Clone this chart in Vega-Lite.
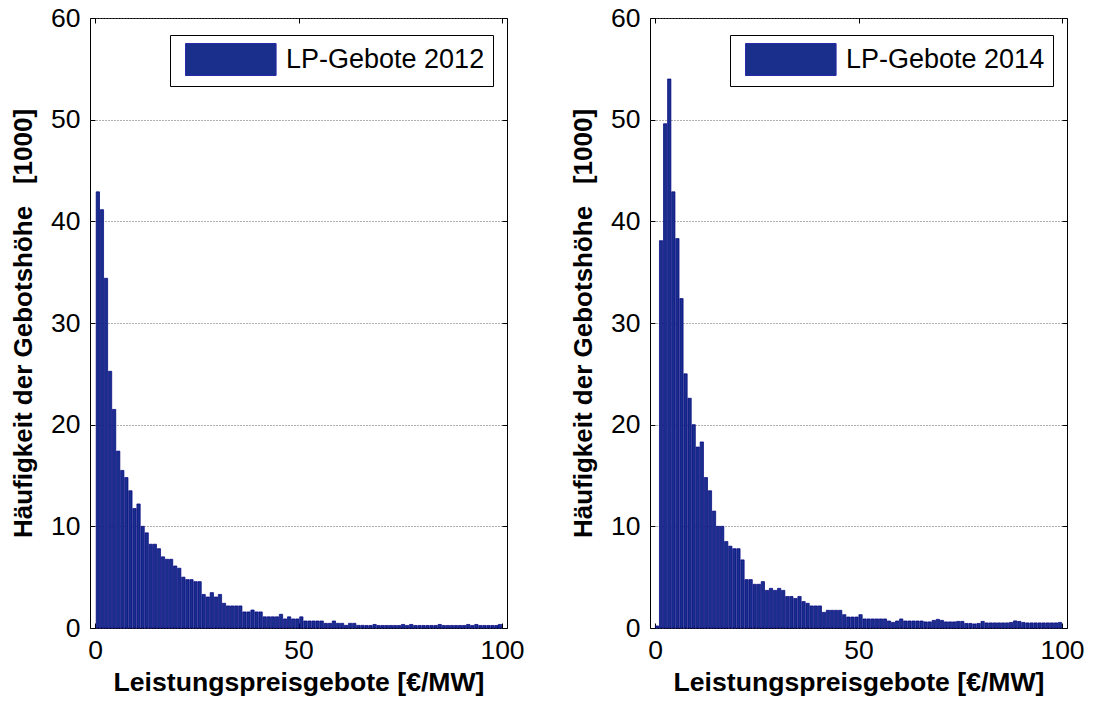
{
  "$schema": "https://vega.github.io/schema/vega-lite/v6.json",
  "background": "white",
  "padding": {"left": 10, "top": 4, "right": 0, "bottom": 0},
  "config": {
    "font": "Liberation Sans",
    "view": {"stroke": "black", "strokeWidth": 1},
    "axis": {
      "labelFont": "Liberation Sans", "labelFontSize": 26.5, "labelColor": "black",
      "titleFont": "Liberation Sans", "titleFontSize": 26.6, "titleFontWeight": "bold", "titleColor": "black",
      "tickColor": "black", "tickSize": -5, "tickWidth": 1,
      "domainColor": "black", "gridColor": "#606060", "gridDash": [1, 2], "gridWidth": 1
    }
  },
  "datasets": {
    "d2012": [
      {"preis": 0.7, "anzahl": 42.9}, {"preis": 1.7, "anzahl": 41.15}, {"preis": 2.7, "anzahl": 34.4}, {"preis": 3.7, "anzahl": 25.25}, {"preis": 4.7, "anzahl": 21.5},
      {"preis": 5.7, "anzahl": 17.4}, {"preis": 6.7, "anzahl": 15.5}, {"preis": 7.7, "anzahl": 14.8}, {"preis": 8.7, "anzahl": 13.5}, {"preis": 9.7, "anzahl": 11.75},
      {"preis": 10.7, "anzahl": 12.2}, {"preis": 11.7, "anzahl": 10.0}, {"preis": 12.7, "anzahl": 9.36}, {"preis": 13.7, "anzahl": 8.24}, {"preis": 14.7, "anzahl": 8.24},
      {"preis": 15.7, "anzahl": 7.8}, {"preis": 16.7, "anzahl": 7.0}, {"preis": 17.7, "anzahl": 6.76}, {"preis": 18.7, "anzahl": 6.76}, {"preis": 19.7, "anzahl": 6.1},
      {"preis": 20.7, "anzahl": 5.88}, {"preis": 21.7, "anzahl": 5.0}, {"preis": 22.7, "anzahl": 4.76}, {"preis": 23.7, "anzahl": 4.76}, {"preis": 24.7, "anzahl": 4.56},
      {"preis": 25.7, "anzahl": 4.56}, {"preis": 26.7, "anzahl": 3.3}, {"preis": 27.7, "anzahl": 3.05}, {"preis": 28.7, "anzahl": 3.48}, {"preis": 29.7, "anzahl": 3.05},
      {"preis": 30.7, "anzahl": 3.3}, {"preis": 31.7, "anzahl": 2.43}, {"preis": 32.7, "anzahl": 2.17}, {"preis": 33.7, "anzahl": 2.17}, {"preis": 34.7, "anzahl": 2.17},
      {"preis": 35.7, "anzahl": 2.17}, {"preis": 36.7, "anzahl": 1.58}, {"preis": 37.7, "anzahl": 1.58}, {"preis": 38.7, "anzahl": 1.77}, {"preis": 39.7, "anzahl": 1.58},
      {"preis": 40.7, "anzahl": 1.58}, {"preis": 41.7, "anzahl": 1.1}, {"preis": 42.7, "anzahl": 1.1}, {"preis": 43.7, "anzahl": 1.1}, {"preis": 44.7, "anzahl": 1.1},
      {"preis": 45.7, "anzahl": 1.35}, {"preis": 46.7, "anzahl": 0.89}, {"preis": 47.7, "anzahl": 1.1}, {"preis": 48.7, "anzahl": 0.89}, {"preis": 49.7, "anzahl": 0.89},
      {"preis": 50.7, "anzahl": 1.1}, {"preis": 51.7, "anzahl": 0.69}, {"preis": 52.7, "anzahl": 0.69}, {"preis": 53.7, "anzahl": 0.69}, {"preis": 54.7, "anzahl": 0.69},
      {"preis": 55.7, "anzahl": 0.69}, {"preis": 56.7, "anzahl": 0.46}, {"preis": 57.7, "anzahl": 0.46}, {"preis": 58.7, "anzahl": 0.69}, {"preis": 59.7, "anzahl": 0.46},
      {"preis": 60.7, "anzahl": 0.46}, {"preis": 61.7, "anzahl": 0.26}, {"preis": 62.7, "anzahl": 0.46}, {"preis": 63.7, "anzahl": 0.46}, {"preis": 64.7, "anzahl": 0.26},
      {"preis": 65.7, "anzahl": 0.26}, {"preis": 66.7, "anzahl": 0.25}, {"preis": 67.7, "anzahl": 0.25}, {"preis": 68.7, "anzahl": 0.35}, {"preis": 69.7, "anzahl": 0.25},
      {"preis": 70.7, "anzahl": 0.25}, {"preis": 71.7, "anzahl": 0.25}, {"preis": 72.7, "anzahl": 0.25}, {"preis": 73.7, "anzahl": 0.25}, {"preis": 74.7, "anzahl": 0.25},
      {"preis": 75.7, "anzahl": 0.35}, {"preis": 76.7, "anzahl": 0.25}, {"preis": 77.7, "anzahl": 0.35}, {"preis": 78.7, "anzahl": 0.25}, {"preis": 79.7, "anzahl": 0.25},
      {"preis": 80.7, "anzahl": 0.25}, {"preis": 81.7, "anzahl": 0.25}, {"preis": 82.7, "anzahl": 0.25}, {"preis": 83.7, "anzahl": 0.25}, {"preis": 84.7, "anzahl": 0.35},
      {"preis": 85.7, "anzahl": 0.25}, {"preis": 86.7, "anzahl": 0.25}, {"preis": 87.7, "anzahl": 0.25}, {"preis": 88.7, "anzahl": 0.25}, {"preis": 89.7, "anzahl": 0.25},
      {"preis": 90.7, "anzahl": 0.25}, {"preis": 91.7, "anzahl": 0.35}, {"preis": 92.7, "anzahl": 0.25}, {"preis": 93.7, "anzahl": 0.35}, {"preis": 94.7, "anzahl": 0.25},
      {"preis": 95.7, "anzahl": 0.25}, {"preis": 96.7, "anzahl": 0.25}, {"preis": 97.7, "anzahl": 0.25}, {"preis": 98.7, "anzahl": 0.25}, {"preis": 99.5, "anzahl": 0.35}
    ],
    "d2014": [
      {"preis": 0.5, "anzahl": 0.2}, {"preis": 1.5, "anzahl": 38.1}, {"preis": 2.5, "anzahl": 49.6}, {"preis": 3.5, "anzahl": 54.0}, {"preis": 4.5, "anzahl": 42.9},
      {"preis": 5.5, "anzahl": 38.3}, {"preis": 6.5, "anzahl": 32.4}, {"preis": 7.5, "anzahl": 25.0}, {"preis": 8.5, "anzahl": 22.6}, {"preis": 9.5, "anzahl": 20.0},
      {"preis": 10.5, "anzahl": 17.8}, {"preis": 11.5, "anzahl": 18.3}, {"preis": 12.5, "anzahl": 14.8}, {"preis": 13.5, "anzahl": 13.5}, {"preis": 14.5, "anzahl": 11.5},
      {"preis": 15.5, "anzahl": 10.0}, {"preis": 16.5, "anzahl": 10.0}, {"preis": 17.5, "anzahl": 8.5}, {"preis": 18.5, "anzahl": 8.05}, {"preis": 19.5, "anzahl": 7.8},
      {"preis": 20.5, "anzahl": 7.8}, {"preis": 21.5, "anzahl": 6.7}, {"preis": 22.5, "anzahl": 4.76}, {"preis": 23.5, "anzahl": 4.76}, {"preis": 24.5, "anzahl": 4.3},
      {"preis": 25.5, "anzahl": 4.3}, {"preis": 26.5, "anzahl": 4.56}, {"preis": 27.5, "anzahl": 3.7}, {"preis": 28.5, "anzahl": 3.9}, {"preis": 29.5, "anzahl": 3.7},
      {"preis": 30.5, "anzahl": 3.9}, {"preis": 31.5, "anzahl": 3.7}, {"preis": 32.5, "anzahl": 3.1}, {"preis": 33.5, "anzahl": 3.1}, {"preis": 34.5, "anzahl": 2.9},
      {"preis": 35.5, "anzahl": 3.1}, {"preis": 36.5, "anzahl": 2.6}, {"preis": 37.5, "anzahl": 2.43}, {"preis": 38.5, "anzahl": 2.17}, {"preis": 39.5, "anzahl": 2.17},
      {"preis": 40.5, "anzahl": 2.17}, {"preis": 41.5, "anzahl": 1.54}, {"preis": 42.5, "anzahl": 1.74}, {"preis": 43.5, "anzahl": 1.74}, {"preis": 44.5, "anzahl": 1.74},
      {"preis": 45.5, "anzahl": 1.74}, {"preis": 46.5, "anzahl": 1.31}, {"preis": 47.5, "anzahl": 1.08}, {"preis": 48.5, "anzahl": 1.08}, {"preis": 49.5, "anzahl": 1.08},
      {"preis": 50.5, "anzahl": 1.31}, {"preis": 51.5, "anzahl": 0.89}, {"preis": 52.5, "anzahl": 0.89}, {"preis": 53.5, "anzahl": 0.89}, {"preis": 54.5, "anzahl": 0.89},
      {"preis": 55.5, "anzahl": 0.89}, {"preis": 56.5, "anzahl": 0.89}, {"preis": 57.5, "anzahl": 0.69}, {"preis": 58.5, "anzahl": 0.55}, {"preis": 59.5, "anzahl": 0.69},
      {"preis": 60.5, "anzahl": 0.89}, {"preis": 61.5, "anzahl": 0.69}, {"preis": 62.5, "anzahl": 0.69}, {"preis": 63.5, "anzahl": 0.69}, {"preis": 64.5, "anzahl": 0.69},
      {"preis": 65.5, "anzahl": 0.69}, {"preis": 66.5, "anzahl": 0.6}, {"preis": 67.5, "anzahl": 0.6}, {"preis": 68.5, "anzahl": 0.75}, {"preis": 69.5, "anzahl": 0.85},
      {"preis": 70.5, "anzahl": 0.75}, {"preis": 71.5, "anzahl": 0.6}, {"preis": 72.5, "anzahl": 0.6}, {"preis": 73.5, "anzahl": 0.6}, {"preis": 74.5, "anzahl": 0.65},
      {"preis": 75.5, "anzahl": 0.65}, {"preis": 76.5, "anzahl": 0.45}, {"preis": 77.5, "anzahl": 0.45}, {"preis": 78.5, "anzahl": 0.4}, {"preis": 79.5, "anzahl": 0.45},
      {"preis": 80.5, "anzahl": 0.65}, {"preis": 81.5, "anzahl": 0.5}, {"preis": 82.5, "anzahl": 0.5}, {"preis": 83.5, "anzahl": 0.5}, {"preis": 84.5, "anzahl": 0.5},
      {"preis": 85.5, "anzahl": 0.5}, {"preis": 86.5, "anzahl": 0.5}, {"preis": 87.5, "anzahl": 0.55}, {"preis": 88.5, "anzahl": 0.7}, {"preis": 89.5, "anzahl": 0.65},
      {"preis": 90.5, "anzahl": 0.55}, {"preis": 91.5, "anzahl": 0.5}, {"preis": 92.5, "anzahl": 0.5}, {"preis": 93.5, "anzahl": 0.5}, {"preis": 94.5, "anzahl": 0.5},
      {"preis": 95.5, "anzahl": 0.5}, {"preis": 96.5, "anzahl": 0.5}, {"preis": 97.5, "anzahl": 0.5}, {"preis": 98.5, "anzahl": 0.5}, {"preis": 99.5, "anzahl": 0.55}
    ]
  },
  "spacing": 45,
  "resolve": {"scale": {"color": "independent"}, "legend": {"color": "independent"}},
  "hconcat": [
    {
      "width": 417, "height": 610,
      "data": {"name": "d2012"},
      "layer": [
        {
          "mark": {"type": "bar", "size": 3.3, "stroke": "#000080", "strokeWidth": 0.7},
          "encoding": {
            "x": {"field": "preis", "type": "quantitative", "scale": {"domain": [0, 100], "nice": false, "zero": false},
                  "axis": {"values": [0, 50, 100], "title": "Leistungspreisgebote [€/MW]", "labelPadding": 14, "titlePadding": 6, "grid": false, "domain": false}},
            "y": {"field": "anzahl", "type": "quantitative", "scale": {"domain": [0, 60], "nice": false},
                  "axis": {"values": [0, 10, 20, 30, 40, 50, 60], "title": "Häufigkeit der Gebotshöhe\u00a0\u00a0\u00a0[1000]", "titleFontSize": 26, "labelPadding": 15, "titlePadding": 14, "grid": true, "domain": false}},
            "color": {"datum": "LP-Gebote 2012", "scale": {"range": ["#1a2f8c"]},
                      "legend": {"orient": "none", "legendX": 80, "legendY": 17, "title": null, "padding": 8,
                                 "strokeColor": "black", "fillColor": "white",
                                 "symbolType": "M-0.56,-1H5.1V1H-0.56Z", "symbolSize": 1024,
                                 "symbolStrokeColor": "#2a2aa8", "symbolStrokeWidth": 1, "symbolOpacity": 1,
                                 "labelFontSize": 27, "labelColor": "black", "labelOffset": 75, "labelLimit": 400}}
          }
        },
        {
          "mark": {"type": "point", "opacity": 0},
          "encoding": {
            "x": {"field": "preis", "type": "quantitative", "axis": {"orient": "top", "values": [0, 50, 100], "labels": false, "title": null, "grid": false, "domain": false}},
            "y": {"field": "anzahl", "type": "quantitative", "axis": {"orient": "right", "values": [0, 10, 20, 30, 40, 50, 60], "labels": false, "title": null, "grid": false, "domain": false}}
          }
        }
      ],
      "resolve": {"axis": {"x": "independent", "y": "independent"}}
    },
    {
      "width": 417, "height": 610,
      "data": {"name": "d2014"},
      "layer": [
        {
          "mark": {"type": "bar", "size": 3.3, "stroke": "#000080", "strokeWidth": 0.7},
          "encoding": {
            "x": {"field": "preis", "type": "quantitative", "scale": {"domain": [0, 100], "nice": false, "zero": false},
                  "axis": {"values": [0, 50, 100], "title": "Leistungspreisgebote [€/MW]", "labelPadding": 14, "titlePadding": 6, "grid": false, "domain": false}},
            "y": {"field": "anzahl", "type": "quantitative", "scale": {"domain": [0, 60], "nice": false},
                  "axis": {"values": [0, 10, 20, 30, 40, 50, 60], "title": "Häufigkeit der Gebotshöhe\u00a0\u00a0\u00a0[1000]", "titleFontSize": 26, "labelPadding": 15, "titlePadding": 14, "grid": true, "domain": false}},
            "color": {"datum": "LP-Gebote 2014", "scale": {"range": ["#1a2f8c"]},
                      "legend": {"orient": "none", "legendX": 80, "legendY": 17, "title": null, "padding": 8,
                                 "strokeColor": "black", "fillColor": "white",
                                 "symbolType": "M-0.56,-1H5.1V1H-0.56Z", "symbolSize": 1024,
                                 "symbolStrokeColor": "#2a2aa8", "symbolStrokeWidth": 1, "symbolOpacity": 1,
                                 "labelFontSize": 27, "labelColor": "black", "labelOffset": 75, "labelLimit": 400}}
          }
        },
        {
          "mark": {"type": "point", "opacity": 0},
          "encoding": {
            "x": {"field": "preis", "type": "quantitative", "axis": {"orient": "top", "values": [0, 50, 100], "labels": false, "title": null, "grid": false, "domain": false}},
            "y": {"field": "anzahl", "type": "quantitative", "axis": {"orient": "right", "values": [0, 10, 20, 30, 40, 50, 60], "labels": false, "title": null, "grid": false, "domain": false}}
          }
        }
      ],
      "resolve": {"axis": {"x": "independent", "y": "independent"}}
    }
  ]
}
